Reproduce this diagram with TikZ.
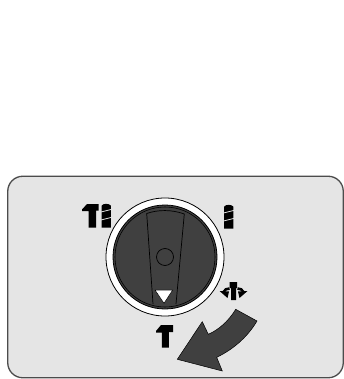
\documentclass[tikz,border=0pt]{standalone}
\tikzset{
  panel/.style={draw=black!70,line width=1.3pt,fill=black!10,rounded corners=15pt},
  dark/.style={fill=black!75},
  thin line/.style={draw=black,line width=0.7pt},
  glyph/.style={fill=black,draw=none},
  cut/.style={draw=black!10,line width=0.8pt}
}
\newcommand{\barglyph}[1]{%
  \begin{scope}[shift={(#1)}]
  \fill[glyph] (-4.7,-14) .. controls (-3,-16.5) and (3,-16.5) .. (4.7,-14) -- (4.7,8) -- (-4.7,8) -- cycle;
  \draw[cut] (-6,-7.5) -- (6,-10.5);
  \draw[cut] (-6,0.5) -- (6,-2.5);
  \end{scope}}
\begin{document}
\begin{tikzpicture}[x=1pt,y=-1pt]
\useasboundingbox (0,0) rectangle (344,379);
\fill[white] (0,0) rectangle (344,379);
\node[panel,minimum width=335.5pt,minimum height=201.5pt,inner sep=0pt] (panel) at (175.5,277) {};
% knob
\node[circle,draw=black,line width=0.8pt,fill=white,minimum size=118pt,inner sep=0pt] (ring) at (165,257) {};
\node[circle,draw=black,line width=0.8pt,fill=black!75,minimum size=104pt,inner sep=0pt] (dial) at (165,257) {};
\node[circle,draw=black,line width=0.6pt,minimum size=100pt,inner sep=0pt] (dialin) at (165,257) {};
\draw[thin line] (153,304) -- (146.7,213.5) .. controls (158,209.5) and (172,209.5) .. (184.3,214) -- (176,304);
\node[circle,thin line,minimum size=17pt,inner sep=0pt] (hub) at (165,257) {};
\fill[white,draw=black,line width=0.5pt] (155,290) -- (172.7,290) -- (164,303.3) -- cycle;
% symbols
\fill[glyph] (82,209.5) -- (87,204) -- (98.5,204) -- (98.5,210.5) -- (96,210.5) -- (96,227.7) -- (88.7,227.7) -- (88.7,211) -- (82,211) -- cycle;
\barglyph{106.2,219.7}
\barglyph{228.7,220.7}
\fill[glyph] (156,331) -- (161,325) -- (173,325) -- (173,332) -- (168.8,332) -- (168.8,347.7) -- (161.8,347.7) -- (161.8,332.5) -- (156,332.5) -- cycle;
% rotate symbol
\fill[glyph] (229.5,282) -- (237.2,282) -- (237.2,287.5) -- (236,288.5) -- (236,300) -- (231,300) -- (231,288.5) -- (229.5,287.5) -- cycle;
\draw[black,line width=2.6pt] (229.5,288.5) .. controls (227,288.5) and (224.5,289.5) .. (223.5,292);
\draw[black,line width=2.6pt] (237.5,288.5) .. controls (240,288.5) and (242.5,289.5) .. (243.5,292);
\fill[glyph] (219.5,291) -- (229,291.5) -- (227.5,298) -- cycle;
\fill[glyph] (247.5,291) -- (238,291.5) -- (239.5,298) -- cycle;
% arrow
\fill[dark,draw=black,line width=0.5pt] (235.7,309.3) .. controls (228,322) and (218,330) .. (208.3,334.3) -- (202.3,321.7) -- (177.3,359.3) -- (222.3,371) -- (216.7,357.3) .. controls (232,350) and (247,338) .. (257,321) -- cycle;
\end{tikzpicture}
\end{document}
